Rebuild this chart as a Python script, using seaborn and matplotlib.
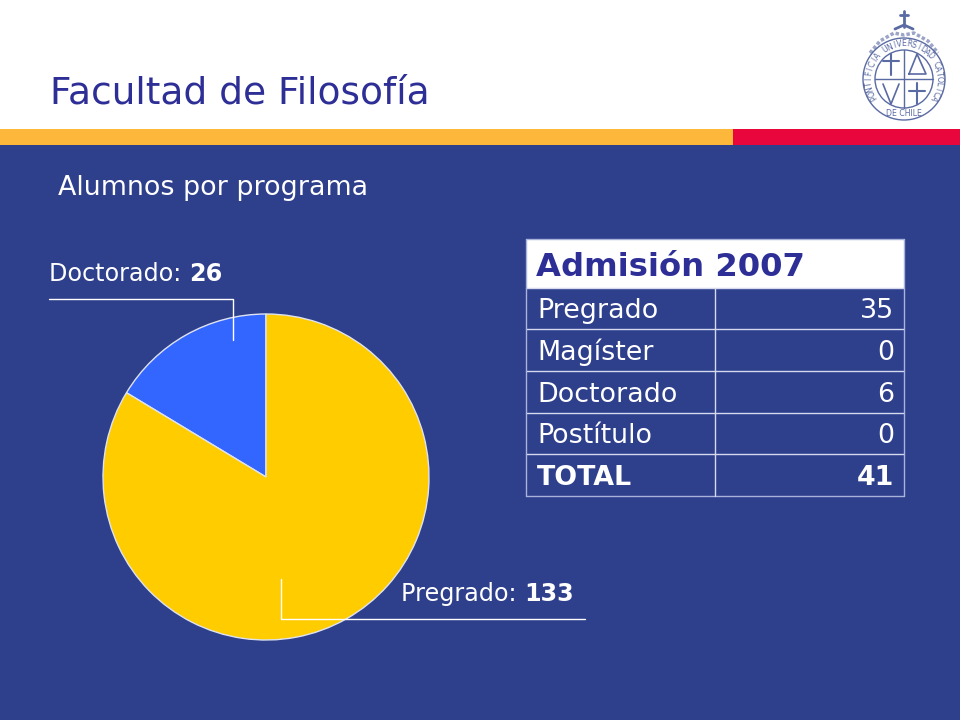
import numpy as np
import seaborn as sns
import matplotlib
matplotlib.use("Agg")
import matplotlib.pyplot as plt
from matplotlib.patches import Rectangle, Circle

title = "Facultad de Filosofía"
subtitle = "Alumnos por programa"

# torta
pie_labels = ["Doctorado", "Pregrado"]
pie_values = [26, 133]
pie_colors = ["#3366ff", "#ffcc00"]

# tabla
table_title = "Admisión 2007"
table_rows = ["Pregrado", "Magíster", "Doctorado", "Postítulo", "TOTAL"]
table_values = [35, 0, 6, 0, 41]

navy = "#2e3f8c"
text_blue = "#2e2f96"
line_col = "#a9b4dc"

sns.set_theme(style="white")
plt.rcParams["font.family"] = ["DejaVu Sans"]

fig = plt.figure(figsize=(9.6, 7.2), dpi=100, facecolor=navy)
ax = fig.add_axes([0, 0, 1, 1])
ax.set_xlim(0, 960)
ax.set_ylim(720, 0)
ax.axis("off")

# cabecera
ax.add_patch(Rectangle((0, 0), 960, 129, color="white", lw=0))
ax.add_patch(Rectangle((0, 129), 733, 16, color="#fdb73a", lw=0))
ax.add_patch(Rectangle((733, 129), 227, 16, color="#e8063c", lw=0))
ax.text(50, 104, title, fontsize=27, color=text_blue, va="baseline", ha="left")
ax.text(58, 195, subtitle, fontsize=19.4, color="white", va="baseline", ha="left")

# escudo
cx, cy = 904, 79
seal = "#5a6aa3"
ax.add_patch(Circle((cx, cy), 41, fill=False, ec=seal, lw=1))
ax.add_patch(Circle((cx, cy), 29, fill=False, ec=seal, lw=1))
ax.plot([cx - 29, cx + 29], [cy, cy], color=seal, lw=1)
ax.plot([cx, cx], [cy - 29, cy + 29], color=seal, lw=1)
ax.plot([cx - 13, cx - 13], [cy - 25, cy - 4], color=seal, lw=1.5)
ax.plot([cx - 21, cx - 5], [cy - 18, cy - 18], color=seal, lw=1.5)
ax.plot([cx + 13, cx + 13], [cy + 4, cy + 25], color=seal, lw=1.5)
ax.plot([cx + 5, cx + 21], [cy + 12, cy + 12], color=seal, lw=1.5)
ax.plot([cx + 5, cx + 13, cx + 22, cx + 5], [cy - 5, cy - 25, cy - 5, cy - 5], color=seal, lw=1.2)
ax.plot([cx - 21, cx - 13, cx - 5], [cy + 5, cy + 25, cy + 5], color=seal, lw=1.2)
ax.plot([cx - 34, cx - 24, cx - 10, cx, cx + 10, cx + 24, cx + 34],
        [cy - 26, cy - 38, cy - 46, cy - 44, cy - 46, cy - 38, cy - 26], color=seal, lw=2.5, alpha=0.6, ls=(0, (1, 0.6)))
ax.plot([cx - 9, cx, cx + 9], [cy - 50, cy - 54, cy - 50], color=seal, lw=2)
ax.plot([cx, cx], [cy - 68, cy - 52], color=seal, lw=2)
ax.plot([cx - 4, cx + 4], [cy - 64, cy - 64], color=seal, lw=2)

seal_text = "PONTIFICIA UNIVERSIDAD CATOLICA"
angles = np.linspace(-122, 122, len(seal_text))
for ch, a in zip(seal_text, angles):
    r = np.radians(a)
    ax.text(cx + 35 * np.sin(r), cy - 35 * np.cos(r), ch, fontsize=5.6, color=seal,
            rotation=-a, ha="center", va="center")
ax.text(cx, cy + 35, "DE CHILE", fontsize=5.6, color=seal, ha="center", va="center")

# torta, posicion en pixeles
pie_ax = fig.add_axes([103 / 960, 1 - 640 / 720, 326 / 960, 326 / 720])
pie_ax.pie(pie_values, colors=pie_colors, startangle=90, counterclock=True, radius=1,
           wedgeprops={"edgecolor": "#dfe3f0", "linewidth": 1})
pie_ax.set_xlim(-1, 1)
pie_ax.set_ylim(-1, 1)

# etiquetas encima de la torta
over = fig.add_axes([0, 0, 1, 1], facecolor="none")
over.set_xlim(0, 960)
over.set_ylim(720, 0)
over.axis("off")
over.plot([49, 233, 233], [299, 299, 340], color="white", lw=1)
over.plot([281, 281, 585], [579, 619, 619], color="white", lw=1)
for name, val, pos in zip(pie_labels, pie_values, [(49, 281), (401, 601)]):
    t = over.annotate(name + ": ", pos, fontsize=17.2, color="white", va="baseline", ha="left")
    over.annotate(str(val), xy=(1, pos[1]), xycoords=(t, "data"), fontsize=17.2, color="white",
                  fontweight="bold", va="baseline", ha="left")

# tabla
tx0, tx1, tx2 = 526, 715, 904
ty = [239, 288, 329, 371, 413, 454, 496]
over.add_patch(Rectangle((tx0, ty[0]), tx2 - tx0, ty[1] - ty[0], color="white", lw=0))
over.text(tx0 + 10, 276, table_title, fontsize=23.2, fontweight="bold", color=text_blue, va="baseline", ha="left")
for y in ty:
    over.plot([tx0, tx2], [y, y], color=line_col if y in (ty[0], ty[-1]) else "#d5daee", lw=1)
over.plot([tx0, tx0], [ty[0], ty[-1]], color=line_col, lw=1)
over.plot([tx2, tx2], [ty[0], ty[-1]], color=line_col, lw=1)
over.plot([tx1, tx1], [ty[1], ty[-1]], color="#d5daee", lw=1)
for i, (name, val) in enumerate(zip(table_rows, table_values)):
    weight = "bold" if name == "TOTAL" else "normal"
    yb = ty[i + 2] - 11
    over.text(tx0 + 11, yb, name, fontsize=19.4, color="white", fontweight=weight, va="baseline", ha="left")
    over.text(tx2 - 10, yb, str(val), fontsize=19.4, color="white", fontweight=weight, va="baseline", ha="right")

fig.savefig("out.png", dpi=100, facecolor=navy)
